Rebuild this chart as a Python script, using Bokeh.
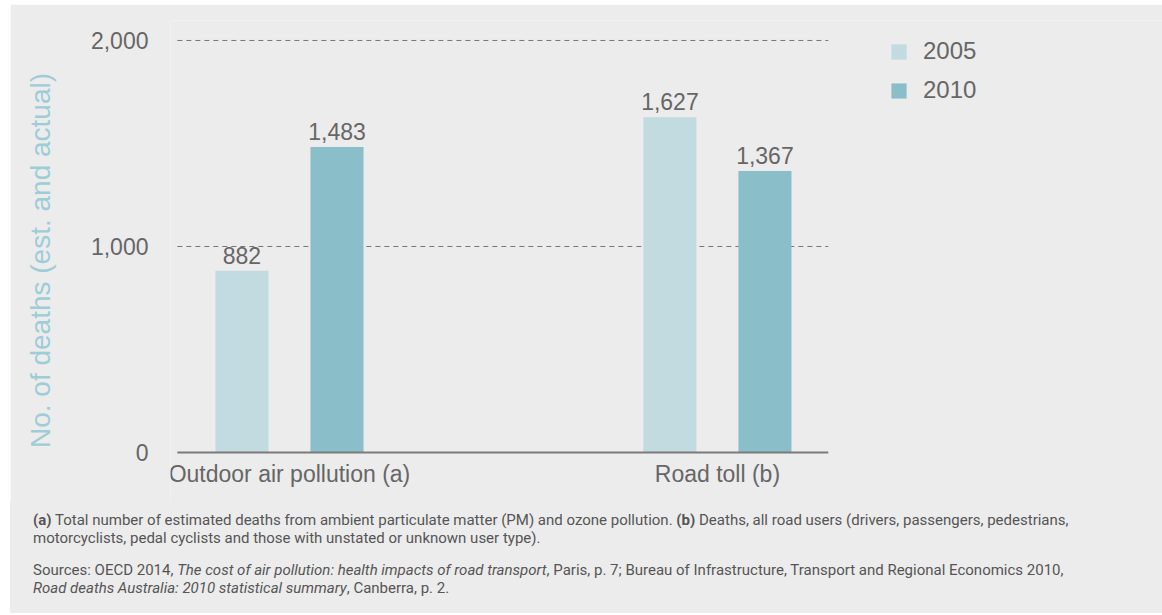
from bokeh.plotting import figure
from bokeh.models import ColumnDataSource, FixedTicker, Legend, LegendItem, Div, Range1d
from bokeh.layouts import column
from bokeh.embed import file_html
from bokeh.resources import INLINE
from bokeh.core.properties import value

categories = ["Outdoor air pollution (a)", "Road toll (b)"]
years = ["2005", "2010"]
values_2005 = [882, 1627]
values_2010 = [1483, 1367]
y_ticks = [0, 1000, 2000]
y_tick_labels = ["0", "1,000", "2,000"]

BG = "#ececec"
C2005 = "#c1dbe1"
C2010 = "#8abfca"
TXT = "#666666"
FONT = "Liberation Sans"

idx = list(range(len(categories)))
off = 0.111
bw = 0.124
x_lo, x_hi = -0.278, 2.040          # frame spans to the right edge (legend lives inside)
grid_lo, grid_hi = -0.262, 1.259    # extent of the gridlines / axis line
y_lo, y_hi = -233, 2097

p = figure(width=1152, height=496, x_range=Range1d(x_lo, x_hi), y_range=Range1d(y_lo, y_hi),
           output_backend="svg", toolbar_location=None,
           min_border_left=160, min_border_right=0, min_border_top=16, min_border_bottom=0)
p.background_fill_color = BG
p.border_fill_color = BG
p.outline_line_color = None
p.xaxis.visible = False
p.xgrid.visible = False
p.ygrid.visible = False

# dashed gridlines
p.segment(x0=[grid_lo] * 2, x1=[grid_hi] * 2, y0=y_ticks[1:], y1=y_ticks[1:],
          line_color="#777777", line_dash="5 4", line_width=1)

src05 = ColumnDataSource(dict(x=[i - off for i in idx], top=values_2005,
                              lab=[f"{v:,}" for v in values_2005]))
src10 = ColumnDataSource(dict(x=[i + off for i in idx], top=values_2010,
                              lab=[f"{v:,}" for v in values_2010]))

r05 = p.vbar(x="x", top="top", width=bw, source=src05, color=C2005, line_color=None)
r10 = p.vbar(x="x", top="top", width=bw, source=src10, color=C2010, line_color=None)

# base line
p.segment(x0=[grid_lo], x1=[grid_hi], y0=[0], y1=[0], line_color="#7a7a7a", line_width=2)

for s in (src05, src10):
    p.text(x="x", y="top", text="lab", source=s, text_align="center", text_baseline="bottom",
           y_offset=-7, text_font=value(FONT), text_font_size="23px", text_color=TXT)

# category labels under the base line
p.text(x=idx, y=[0] * len(idx), text=categories, text_align="center", text_baseline="top",
       y_offset=8, text_font=value(FONT), text_font_size="23px", text_color=TXT)

ya = p.yaxis[0]
ya.ticker = FixedTicker(ticks=y_ticks)
ya.major_label_overrides = {t: l for t, l in zip(y_ticks, y_tick_labels)}
ya.axis_line_color = None
ya.major_tick_line_color = None
ya.minor_tick_line_color = None
ya.major_tick_out = 0
ya.major_tick_in = 0
ya.major_label_standoff = 22
ya.major_label_text_font = FONT
ya.major_label_text_font_size = "23px"
ya.major_label_text_color = TXT
ya.axis_label = "No. of deaths (est. and actual)"
ya.axis_label_text_font = FONT
ya.axis_label_text_font_size = "28px"
ya.axis_label_text_font_style = "normal"
ya.axis_label_text_color = "#9dcdd7"
ya.axis_label_standoff = 32

legend = Legend(items=[LegendItem(label=years[0], renderers=[r05]),
                       LegendItem(label=years[1], renderers=[r10])],
                location=(719, 396))
legend.glyph_width = 19
legend.glyph_height = 19
legend.label_height = 19
legend.label_standoff = 15
legend.spacing = 11
legend.padding = 0
legend.margin = 0
legend.border_line_color = None
legend.background_fill_alpha = 0
legend.label_text_font = FONT
legend.label_text_font_size = "24px"
legend.label_text_color = TXT
p.add_layout(legend)

html = (
    '<div style="padding:11px 0 0 23px; font-family:Roboto, sans-serif;'
    ' font-size:15px; line-height:18px; color:#555; white-space:nowrap;">'
    '<b>(a)</b> Total number of estimated deaths from ambient particulate matter (PM) and ozone pollution. '
    '<b>(b)</b> Deaths, all road users (drivers, passengers, pedestrians,<br>'
    'motorcyclists, pedal cyclists and those with unstated or unknown user type).'
    '<div style="height:14px"></div>'
    'Sources: OECD 2014, <i>The cost of air pollution: health impacts of road transport</i>, Paris, p. 7; '
    'Bureau of Infrastructure, Transport and Regional Economics 2010,<br>'
    '<i>Road deaths Australia: 2010 statistical summary</i>, Canberra, p. 2.'
    '</div>'
)
div = Div(text=html, width=1152, height=113, margin=0, styles={"background-color": BG})

layout = column(p, div, spacing=0, styles={"margin-left": "10px", "margin-top": "4px"})
open("out.html", "w").write(file_html(layout, INLINE))
